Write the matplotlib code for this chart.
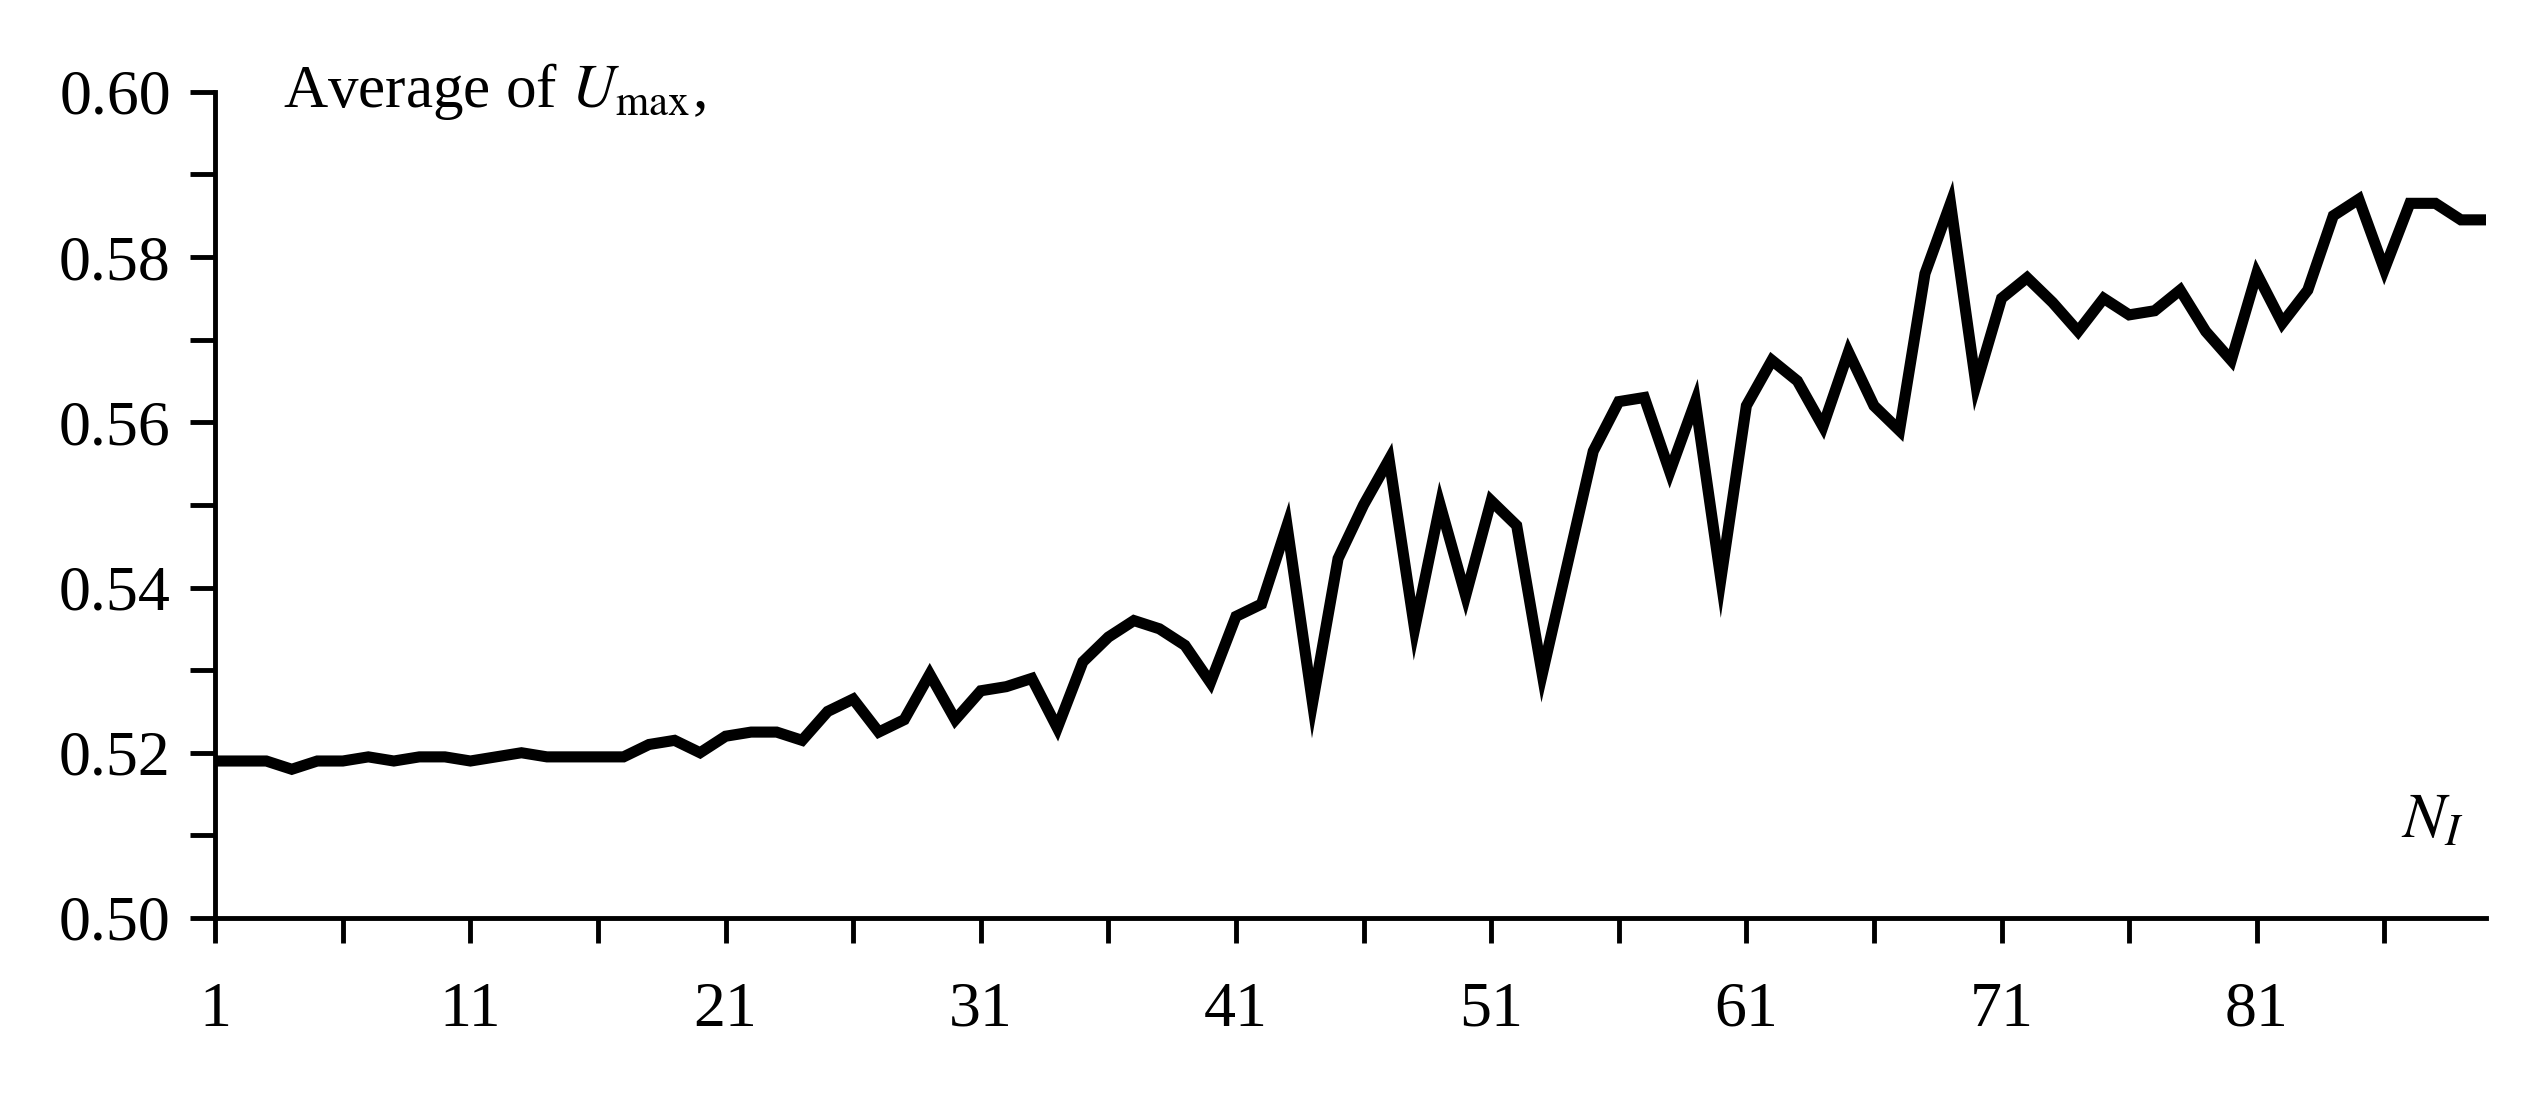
import matplotlib
matplotlib.use("Agg")
import matplotlib.pyplot as plt
from matplotlib.ticker import MultipleLocator, FixedLocator

plt.rcParams['font.family'] = ['Liberation Serif', 'DejaVu Serif']
plt.rcParams['mathtext.fontset'] = 'stix'

# average of U_max for N_I = 1..90
u_avg = [0.519, 0.519, 0.519, 0.518, 0.519, 0.519, 0.5195, 0.519, 0.5195, 0.5195,
         0.519, 0.5195, 0.520, 0.5195, 0.5195, 0.5195, 0.5195, 0.521, 0.5215,
         0.520, 0.522, 0.5225, 0.5225, 0.5215, 0.525, 0.5265, 0.5225, 0.524, 0.5295,
         0.524, 0.5275, 0.528, 0.529, 0.523, 0.531, 0.534, 0.536, 0.535, 0.533,
         0.5285, 0.5365, 0.538, 0.5475, 0.526, 0.5435, 0.550, 0.5555, 0.535, 0.550,
         0.539, 0.5505, 0.5475, 0.5295, 0.543, 0.5565, 0.5625, 0.563, 0.554, 0.5625,
         0.541, 0.562, 0.5675, 0.565, 0.5595, 0.5685, 0.562, 0.559, 0.578, 0.5865,
         0.5645, 0.575, 0.5775, 0.5745, 0.571, 0.575, 0.573, 0.5735, 0.576, 0.571,
         0.5675, 0.578, 0.572, 0.576, 0.585, 0.587, 0.5785, 0.5865, 0.5865, 0.5845,
         0.5845]
n_i = list(range(1, len(u_avg) + 1))
x_labels = [1, 11, 21, 31, 41, 51, 61, 71, 81]

fig = plt.figure(figsize=(25.32, 11.06), dpi=100)
ax = fig.add_axes([0.085, 0.17, 0.897, 0.747])
ax.plot(n_i, u_avg, color='black', lw=8, solid_joinstyle='miter')

ax.set_xlim(1, len(u_avg))
ax.set_ylim(0.50, 0.60)
ax.xaxis.set_major_locator(FixedLocator(x_labels))
ax.xaxis.set_minor_locator(FixedLocator([6 + 10 * k for k in range(9)]))
ax.yaxis.set_major_locator(MultipleLocator(0.02))
ax.yaxis.set_minor_locator(MultipleLocator(0.01))
ax.yaxis.set_major_formatter(matplotlib.ticker.FormatStrFormatter('%.2f'))
for s in ['top', 'right']:
    ax.spines[s].set_visible(False)
for s in ['left', 'bottom']:
    ax.spines[s].set_linewidth(3.5)
ax.tick_params(which='both', direction='out', width=3.5, length=18, labelsize=46)
ax.tick_params(axis='x', pad=28)
ax.tick_params(axis='y', pad=14)

ax.text(0.03, 1.0, r'Average of $U_{\rm max}$,', transform=ax.transAxes,
        fontsize=44, va='center', ha='left')
ax.text(0.99, 0.08, r'$N_I$', transform=ax.transAxes, fontsize=46,
        ha='right', va='bottom')

fig.savefig('out.png', dpi=100)
